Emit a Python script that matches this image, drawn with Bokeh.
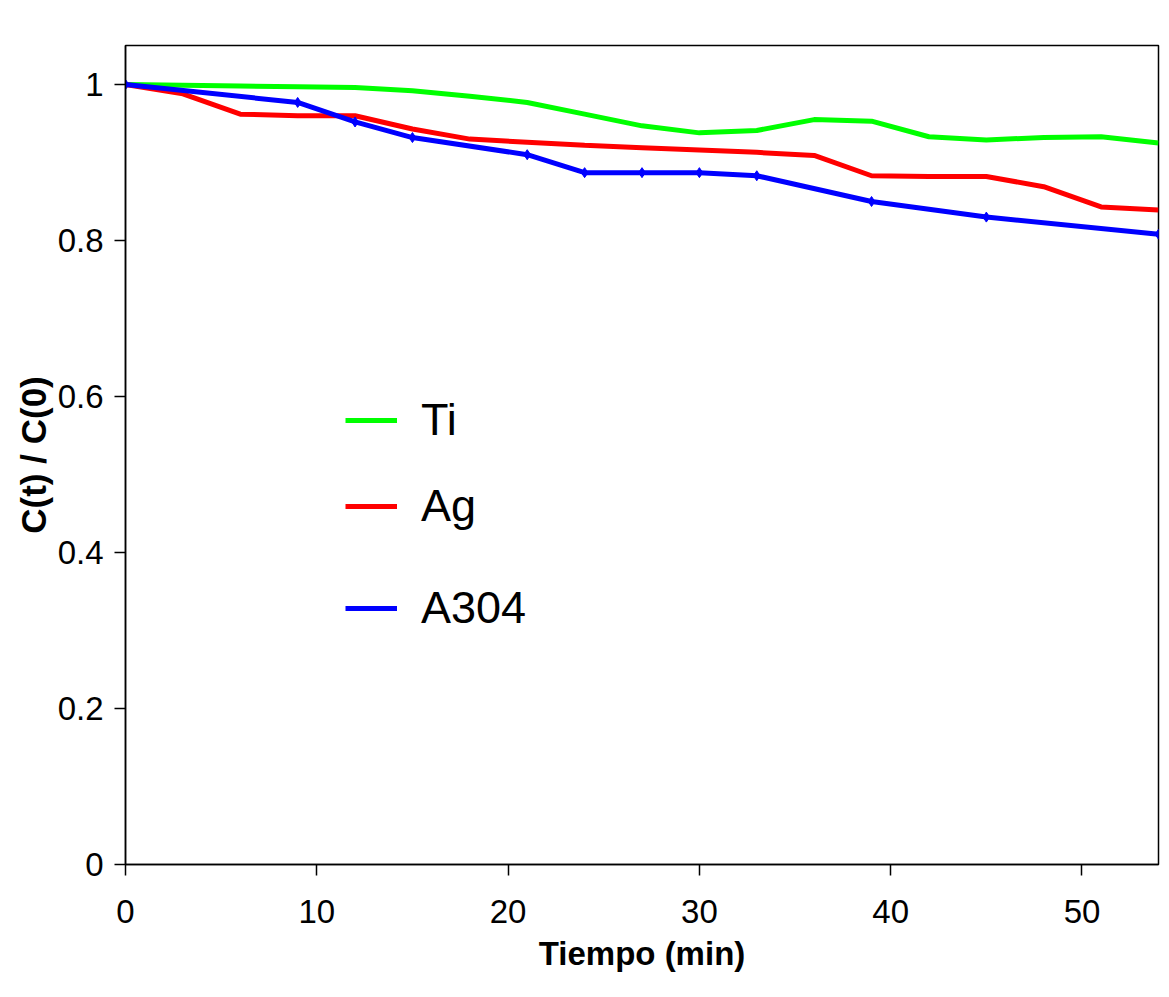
from bokeh.plotting import figure
from bokeh.models import Range1d, FixedTicker, Legend, LegendItem
from bokeh.embed import file_html
from bokeh.resources import INLINE

# ---- data ----
t_grid = [0, 3, 6, 9, 12, 15, 18, 21, 24, 27, 30, 33, 36, 39, 42, 45, 48, 51, 54]
ti = [1.0, 0.999, 0.998, 0.997, 0.996, 0.992, 0.985, 0.977, 0.962, 0.947,
      0.938, 0.941, 0.955, 0.953, 0.933, 0.929, 0.932, 0.933, 0.925]
ag = [1.0, 0.988, 0.962, 0.960, 0.960, 0.943, 0.930, 0.926, 0.922, 0.919,
      0.916, 0.913, 0.909, 0.883, 0.882, 0.882, 0.869, 0.843, 0.839]
t_a304 = [0, 9, 12, 15, 21, 24, 27, 30, 33, 39, 45, 54]
a304 = [1.0, 0.977, 0.952, 0.932, 0.910, 0.887, 0.887, 0.887, 0.883, 0.850, 0.830, 0.808]

x_ticks = [0, 10, 20, 30, 40, 50]
y_ticks = [0, 0.2, 0.4, 0.6, 0.8, 1.0]
y_tick_labels = {0: "0", 0.2: "0.2", 0.4: "0.4", 0.6: "0.6", 0.8: "0.8", 1: "1"}

FONT = "Liberation Sans"

p = figure(width=1169, height=997, output_backend="svg", toolbar_location=None,
           x_range=Range1d(0, 54), y_range=Range1d(0, 1.05),
           min_border_left=125, min_border_right=11, min_border_top=45, min_border_bottom=133)
p.background_fill_color = "white"
p.border_fill_color = "white"
p.xgrid.visible = False
p.ygrid.visible = False
p.outline_line_color = "black"
p.outline_line_width = 1.5

r_ti = p.line(t_grid, ti, line_color="#00ff00", line_width=5)
r_ag = p.line(t_grid, ag, line_color="#ff0000", line_width=5)
r_a = p.line(t_a304, a304, line_color="#0000ff", line_width=5)
p.scatter(t_a304, a304, marker="diamond", size=10, fill_color="#0000ff", line_color="#0000ff")

for ax in (p.xaxis[0], p.yaxis[0]):
    ax.axis_line_color = "black"
    ax.axis_line_width = 1.5
    ax.major_tick_line_color = "black"
    ax.major_tick_line_width = 1.5
    ax.major_tick_out = 11
    ax.major_tick_in = 0
    ax.minor_tick_line_color = None
    ax.major_label_text_font = FONT
    ax.major_label_text_font_size = "33px"
    ax.major_label_text_color = "black"
    ax.axis_label_text_color = "black"
    ax.axis_label_text_font_style = "bold"

p.xaxis.ticker = FixedTicker(ticks=x_ticks)
p.yaxis.ticker = FixedTicker(ticks=y_ticks)
p.yaxis.major_label_overrides = y_tick_labels
p.xaxis.major_label_standoff = 24
p.yaxis.major_label_standoff = 11

p.xaxis.axis_label = "Tiempo (min)"
p.xaxis.axis_label_text_font = FONT
p.xaxis.axis_label_text_font_size = "33px"
p.xaxis.axis_label_standoff = 9

p.yaxis.axis_label = "C(t) / C(0)"
p.yaxis.axis_label_text_font = FONT
p.yaxis.axis_label_text_font_size = "35px"
p.yaxis.axis_label_standoff = 2

def make_legend(label, renderer, loc):
    lg = Legend(items=[LegendItem(label=label, renderers=[renderer])],
                location=loc, orientation="vertical")
    lg.border_line_color = None
    lg.background_fill_alpha = 0
    lg.padding = 0
    lg.margin = 0
    lg.glyph_width = 52
    lg.glyph_height = 20
    lg.label_standoff = 24
    lg.label_text_font = FONT
    lg.label_text_font_size = "45px"
    lg.label_text_color = "black"
    lg.spacing = 0
    return lg

# legend positions: (px from frame left, px from frame bottom)
p.add_layout(make_legend("Ti", r_ti, (220, 864 - 419 - 27)))
p.add_layout(make_legend("Ag", r_ag, (220, 864 - 505 - 27)))
p.add_layout(make_legend("A304", r_a, (220, 864 - 607 - 27)))

open("out.html", "w").write(file_html(p, INLINE))
